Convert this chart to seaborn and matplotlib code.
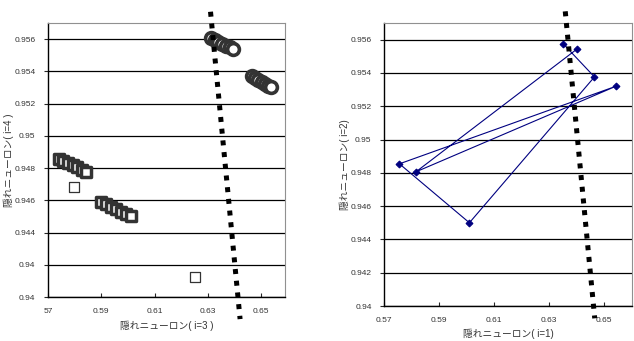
import numpy as np
import pandas as pd
import seaborn as sns
import matplotlib
matplotlib.use('Agg')
import matplotlib.pyplot as plt

# left panel: hidden neuron i=3 (x) vs i=4 (y)
sq_x = [0.5741, 0.5758, 0.5775, 0.5792, 0.5809, 0.5826, 0.5844,
        0.5900, 0.5918, 0.5936, 0.5955, 0.5973, 0.5991, 0.6010]
sq_y = [0.94858, 0.94845, 0.94832, 0.94818, 0.94804, 0.94790, 0.94777,
        0.94590, 0.94575, 0.94560, 0.94545, 0.94530, 0.94515, 0.94501]
lone_x = [0.5799, 0.6250]
lone_y = [0.9468, 0.94126]
circ_x = [0.6313, 0.6325, 0.6338, 0.6352, 0.6368, 0.6382, 0.6394,
          0.6466, 0.6478, 0.6490, 0.6502, 0.6514, 0.6526, 0.6538]
circ_y = [0.95606, 0.95595, 0.95584, 0.95572, 0.95560, 0.95549, 0.95538,
          0.95371, 0.95360, 0.95348, 0.95336, 0.95324, 0.95312, 0.95301]
sep_left_x = [0.6310, 0.6421]
sep_left_y = [0.9577, 0.93863]

# right panel: hidden neuron i=1 (x) vs i=2 (y), visiting order
path_x = [0.6401, 0.5816, 0.6542, 0.5756, 0.6010, 0.6464, 0.6350]
path_y = [0.95544, 0.94806, 0.95320, 0.94854, 0.94500, 0.95376, 0.95576]
sep_right_x = [0.6358, 0.6465]
sep_right_y = [0.9577, 0.93926]

yticks = [0.940, 0.942, 0.944, 0.946, 0.948, 0.950, 0.952, 0.954, 0.956]
left_ylabels = ['0.94', '0.94', '0.944', '0.946', '0.948', '0.95', '0.952', '0.954', '0.956']
right_ylabels = ['0.94', '0.942', '0.944', '0.946', '0.948', '0.95', '0.952', '0.954', '0.956']
xticks = [0.57, 0.59, 0.61, 0.63, 0.65]
left_xlabels = ['57', '0.59', '0.61', '0.63', '0.65']
right_xlabels = ['0.57', '0.59', '0.61', '0.63', '0.65']

sns.set_style('white')
plt.rcParams['font.family'] = ['Liberation Sans Narrow', 'Liberation Sans', 'Noto Sans CJK JP', 'DejaVu Sans']

fig = plt.figure(figsize=(6.34, 3.41), dpi=100)
ax1 = fig.add_axes([0.0757, 0.129, 0.374, 0.8035])
ax2 = fig.add_axes([0.6057, 0.1026, 0.391, 0.830])


def style_axes(ax, ylabels, xlabels):
    ax.set_xlim(0.57, 0.659)
    ax.set_ylim(0.940, 0.957)
    ax.set_yticks(yticks)
    ax.set_yticklabels(ylabels)
    ax.set_xticks(xticks)
    ax.set_xticklabels(xlabels)
    ax.yaxis.grid(True, color='black', lw=0.9)
    ax.xaxis.grid(False)
    ax.set_axisbelow(True)
    for s in ['top', 'right']:
        ax.spines[s].set_color('#909090')
        ax.spines[s].set_linewidth(0.8)
    for s in ['left', 'bottom']:
        ax.spines[s].set_color('black')
        ax.spines[s].set_linewidth(1.0)
    ax.tick_params(axis='y', direction='out', length=3, width=0.8, labelsize=6,
                   pad=6, left=True, labelcolor='#333333')
    ax.tick_params(axis='x', direction='in', length=3, width=0.8, labelsize=6,
                   pad=8, bottom=True, labelcolor='#333333')


# left panel
sns.scatterplot(x=sq_x, y=sq_y, ax=ax1, marker='s', s=45, facecolor='white',
                edgecolor='#333333', linewidth=2.5, zorder=3)
sns.scatterplot(x=lone_x, y=lone_y, ax=ax1, marker='s', s=42, facecolor='white',
                edgecolor='#333333', linewidth=0.9, zorder=3)
sns.scatterplot(x=circ_x, y=circ_y, ax=ax1, marker='o', s=72, facecolor='white',
                edgecolor='#333333', linewidth=2.6, zorder=3)
ax1.plot(sep_left_x, sep_left_y, color='black', lw=3.6, linestyle=(0, (1, 1.35)),
         dash_capstyle='butt', clip_on=False, zorder=4)
style_axes(ax1, left_ylabels, left_xlabels)
ax1.set_xlabel('隠れニューロン( i=3 )', fontsize=7, labelpad=4, color='#333333')
ax1.set_ylabel('隠れニューロン( i=4 )', fontsize=7, labelpad=0, color='#333333')

# right panel
sns.lineplot(x=path_x, y=path_y, ax=ax2, sort=False, estimator=None, color='#000080',
             lw=0.8, marker='D', markersize=3.5, markeredgecolor='#000080', zorder=3)
ax2.plot(sep_right_x, sep_right_y, color='black', lw=3.6, linestyle=(0, (1, 1.35)),
         dash_capstyle='butt', clip_on=False, zorder=4)
style_axes(ax2, right_ylabels, right_xlabels)
ax2.set_xlim(0.57, 0.66)
ax2.set_xlabel('隠れニューロン( i=1)', fontsize=7, labelpad=3, color='#333333')
ax2.set_ylabel('隠れニューロン( i=2)', fontsize=7, labelpad=0, color='#333333')

fig.savefig('out.png', dpi=100)
